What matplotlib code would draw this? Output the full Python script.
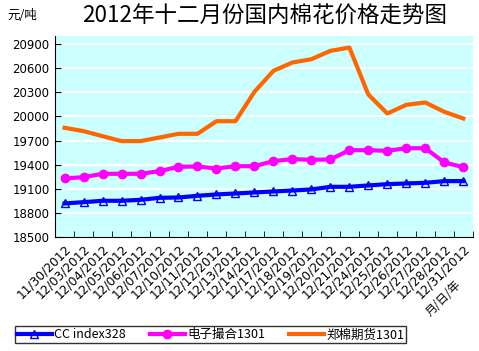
import matplotlib
matplotlib.use('Agg')
import matplotlib.pyplot as plt
import matplotlib.transforms as mtransforms
import numpy as np

plt.rcParams['font.family'] = ['Noto Sans CJK SC', 'DejaVu Sans']

# dates on the category axis
dates = ['11/30/2012', '12/03/2012', '12/04/2012', '12/05/2012', '12/06/2012',
         '12/07/2012', '12/10/2012', '12/11/2012', '12/12/2012', '12/13/2012',
         '12/14/2012', '12/17/2012', '12/18/2012', '12/19/2012', '12/20/2012',
         '12/21/2012', '12/24/2012', '12/25/2012', '12/26/2012', '12/27/2012',
         '12/28/2012', '12/31/2012']

cc_index = [18917, 18933, 18950, 18950, 18962, 18987, 18991, 19012, 19029, 19041,
            19054, 19066, 19078, 19091, 19124, 19124, 19141, 19157, 19166, 19174,
            19195, 19195]
dianzi = [19228, 19244, 19286, 19286, 19286, 19319, 19373, 19377, 19352, 19381,
          19381, 19444, 19469, 19460, 19465, 19580, 19580, 19572, 19605, 19605,
          19427, 19369]
zhengmian = [19859, 19817, 19755, 19693, 19693, 19738, 19784, 19784, 19941, 19941,
             20307, 20568, 20672, 20713, 20817, 20858, 20273, 20037, 20145, 20174,
             20058, 19975]

yticks = [18500, 18800, 19100, 19400, 19700, 20000, 20300, 20600, 20900]

x = np.arange(len(dates))

fig = plt.figure(figsize=(4.79, 3.51), dpi=100)
ax = fig.add_axes([0.115, 0.325, 0.872, 0.572])
ax.set_facecolor('#CCFFFF')

for y in yticks[1:]:
    ax.axhline(y, color='white', lw=1.5, zorder=1)

ax.plot(x, cc_index, color='#0000FF', lw=3, marker='^', ms=6, mfc='none',
        mec='#0000FF', mew=1, label='CC index328', zorder=3)
ax.plot(x, dianzi, color='#FF00FF', lw=3, marker='o', ms=6, mfc='#FF00FF',
        mec='#FF00FF', label='电子撮合1301', zorder=3)
ax.plot(x, zhengmian, color='#FF6600', lw=3, label='郑棉期货1301', zorder=3)

ax.set_xlim(-0.5, len(dates) - 0.5)
ax.set_ylim(18500, 21000)
ax.set_yticks(yticks)
ax.set_yticklabels([str(v) for v in yticks], fontsize=8.5, family='DejaVu Sans')
ax.set_xticks(x)
ax.set_xticklabels(dates, rotation=45, ha='right', va='top', rotation_mode='anchor',
                   fontsize=8.8, family='DejaVu Sans')
# push the date labels down/left like the original
shift = mtransforms.ScaledTranslation(-9 / 100, -14 / 100, fig.dpi_scale_trans)
for lab in ax.get_xticklabels():
    lab.set_transform(lab.get_transform() + shift)
ax.set_xticks(np.arange(-0.5, len(dates), 1), minor=True)
ax.tick_params(axis='x', which='major', length=0, pad=4)
ax.tick_params(axis='x', which='minor', direction='in', length=4, color='black')
ax.tick_params(axis='y', direction='in', length=4, pad=4)

for s in ['top', 'right']:
    ax.spines[s].set_visible(False)
ax.spines['left'].set_color('black')
ax.spines['bottom'].set_color('black')

fig.text(0.553, 0.955, '2012年十二月份国内棉花价格走势图', ha='center', va='center',
         fontsize=16.2)
fig.text(0.015, 0.955, '元/吨', ha='left', va='center', fontsize=9)
fig.text(0.925, 0.151, '月/日/年', ha='center', va='center', fontsize=8.5, rotation=45)

leg = fig.legend(loc='center left', bbox_to_anchor=(0.031, 0.046), ncol=3, fontsize=9,
                 frameon=True, fancybox=False, edgecolor='black', handlelength=2.8,
                 columnspacing=1.9, handletextpad=0.2, borderpad=0.15,
                 borderaxespad=0)
leg.get_frame().set_linewidth(1)

fig.savefig('out.png', dpi=100)
